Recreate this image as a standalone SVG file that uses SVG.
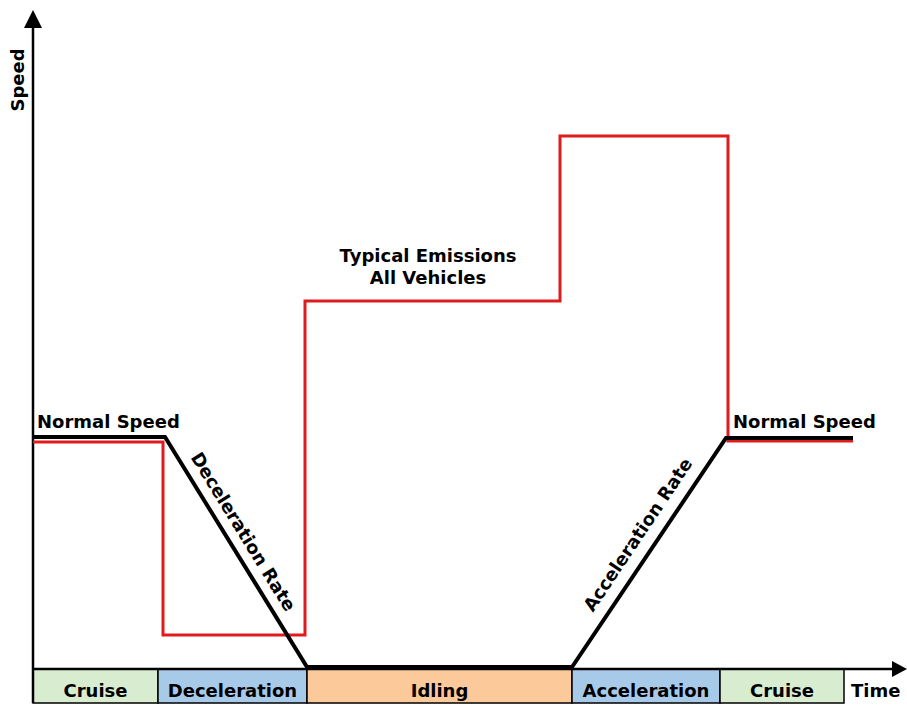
<svg xmlns="http://www.w3.org/2000/svg" width="907" height="705" viewBox="0 0 907 705">
<style>
text{font-family:"DejaVu Sans","Liberation Sans",sans-serif;font-weight:bold;font-size:18px;fill:#000}
.mid{text-anchor:middle}
.band{stroke:#000;stroke-width:1.5}
.axis{stroke:#000;stroke-width:2.5;fill:none}
.speed{stroke:#000;stroke-width:4;fill:none;stroke-linejoin:miter}
.emis{stroke:#e01b1b;stroke-width:3;fill:none}
</style>
<rect width="907" height="705" fill="#fff"/>
<g id="phases">
<g id="cruise1"><rect class="band" x="33" y="669" width="125" height="34" fill="#d8ecd0"/><text class="mid" x="95.5" y="697">Cruise</text></g>
<g id="deceleration"><rect class="band" x="158" y="669" width="149" height="34" fill="#a8cae9"/><text class="mid" x="232.5" y="697">Deceleration</text></g>
<g id="idling"><rect class="band" x="307" y="669" width="265" height="34" fill="#fbc99a"/><text class="mid" x="439.5" y="697">Idling</text></g>
<g id="acceleration"><rect class="band" x="572" y="669" width="148" height="34" fill="#a8cae9"/><text class="mid" x="646" y="697">Acceleration</text></g>
<g id="cruise2"><rect class="band" x="720" y="669" width="124" height="34" fill="#d8ecd0"/><text class="mid" x="782" y="697">Cruise</text></g>
<g id="time"><text x="851" y="697">Time</text></g>
</g>
<g id="axes">
<line class="axis" x1="33" y1="703" x2="33" y2="24"/>
<polygon points="33,10 24,28 42,28" fill="#000"/>
<line class="axis" x1="33" y1="669" x2="893" y2="669"/>
<polygon points="907,669 892,661 892,677" fill="#000"/>
<text class="mid" transform="translate(24,80) rotate(-90)">Speed</text>
</g>
<g id="connectors">
<path id="emissions" class="emis" d="M33,442 H163 V635 H305 V301 H560 V136 H728 V441 H853"/>
<path id="speed-profile" class="speed" d="M33,437 H165 L307,667 H572 L726,438 H853"/>
</g>
<g id="labels">
<text x="37" y="428">Normal Speed</text>
<text x="733" y="428">Normal Speed</text>
<text class="mid" x="428" y="262">Typical Emissions</text>
<text class="mid" x="428" y="284">All Vehicles</text>
<text class="mid" transform="translate(238,535) rotate(58.4)">Deceleration Rate</text>
<text class="mid" transform="translate(643,538) rotate(-56.2)">Acceleration Rate</text>
</g>
</svg>
